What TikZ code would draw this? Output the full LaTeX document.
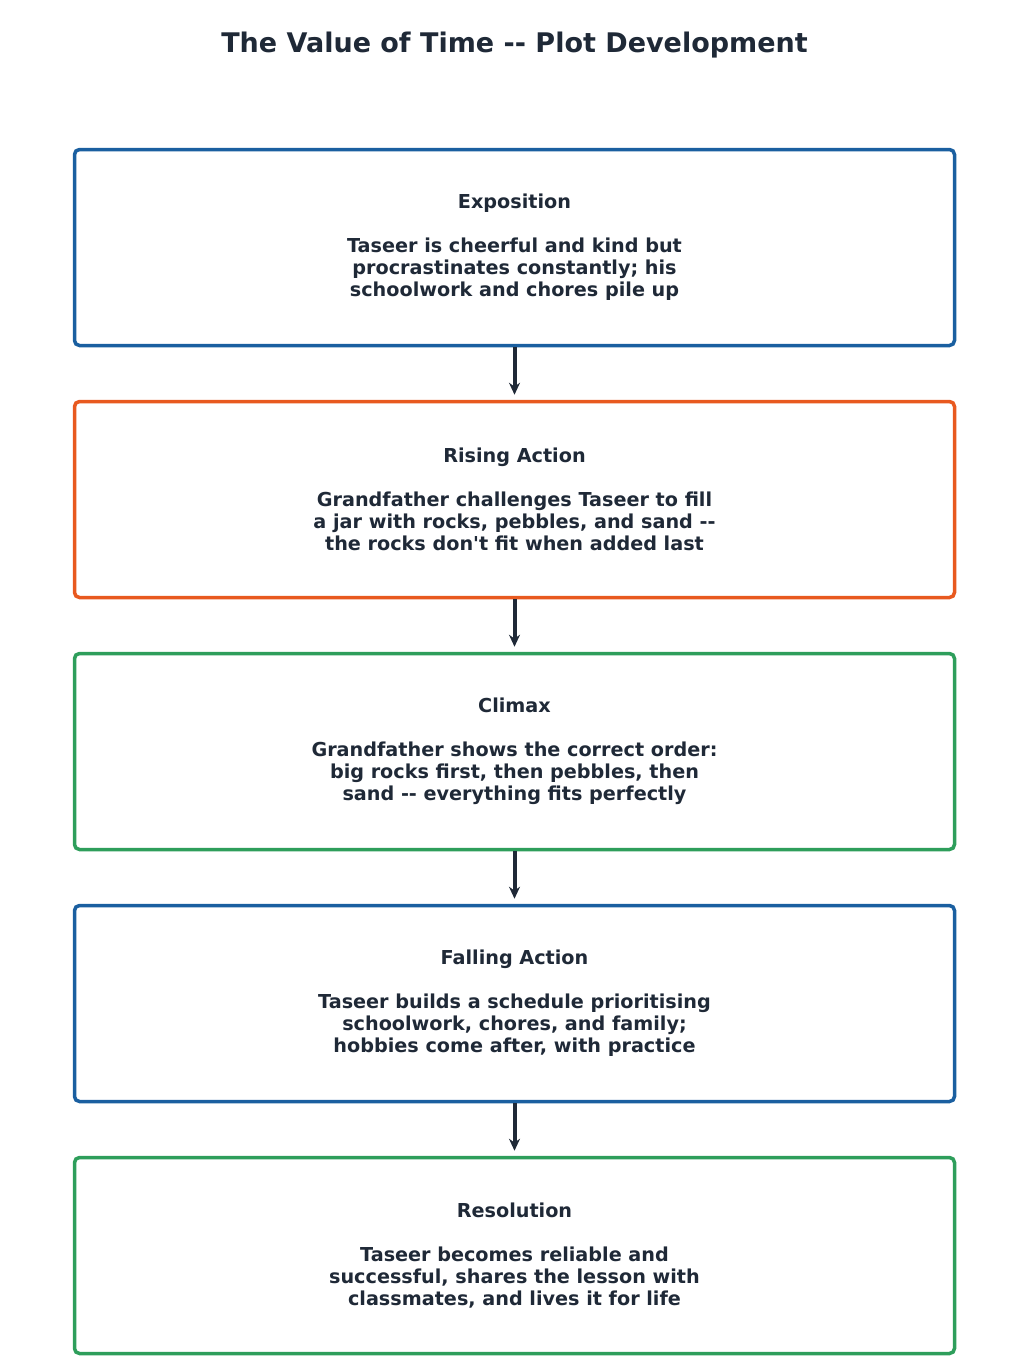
\documentclass[tikz,border=0pt]{standalone}
\usepackage{fontspec}
\setmainfont{DejaVu Sans}[Ligatures=TeXOff]
\usetikzlibrary{positioning,arrows.meta}
\definecolor{ink}{HTML}{1F2937}
\definecolor{stageblue}{HTML}{1A5FA0}
\definecolor{stageorange}{HTML}{E8591F}
\definecolor{stagegreen}{HTML}{2E9E5B}
\begin{document}
\begin{tikzpicture}[x=1pt,y=1pt,
  stage/.style={draw=#1, line width=3.5pt, rounded corners=5pt, fill=white,
    minimum width=880pt, minimum height=196pt, inner sep=0pt,
    align=center, text=ink, font=\fontsize{19.2}{22}\selectfont\bfseries},
  flow/.style={draw=ink, line width=4pt, -{Stealth[length=12pt,width=11pt]}, shorten >=5pt}]
\useasboundingbox (0,0) rectangle (1029,-1358);
\node[text=ink, font=\fontsize{27}{32}\selectfont\bfseries] (title) at (514.5,-45) {The Value of Time -- Plot Development};
% plot stages
\node[stage=stageblue] (expo) at (514.5,-247.5) {Exposition\\[22pt]Taseer is cheerful and kind but\\procrastinates constantly; his\\schoolwork and chores pile up};
\node[stage=stageorange, below=52.5pt of expo] (rising) {Rising Action\\[22pt]Grandfather challenges Taseer to fill\\a jar with rocks, pebbles, and sand --\\the rocks don't fit when added last};
\node[stage=stagegreen, below=52.5pt of rising] (climax) {Climax\\[22pt]Grandfather shows the correct order:\\big rocks first, then pebbles, then\\sand -- everything fits perfectly};
\node[stage=stageblue, below=52.5pt of climax] (falling) {Falling Action\\[22pt]Taseer builds a schedule prioritising\\schoolwork, chores, and family;\\hobbies come after, with practice};
\node[stage=stagegreen, below=52.5pt of falling] (resol) {Resolution\\[22pt]Taseer becomes reliable and\\successful, shares the lesson with\\classmates, and lives it for life};
% arrows
\draw[flow] (expo) -- (rising);
\draw[flow] (rising) -- (climax);
\draw[flow] (climax) -- (falling);
\draw[flow] (falling) -- (resol);
\end{tikzpicture}
\end{document}
